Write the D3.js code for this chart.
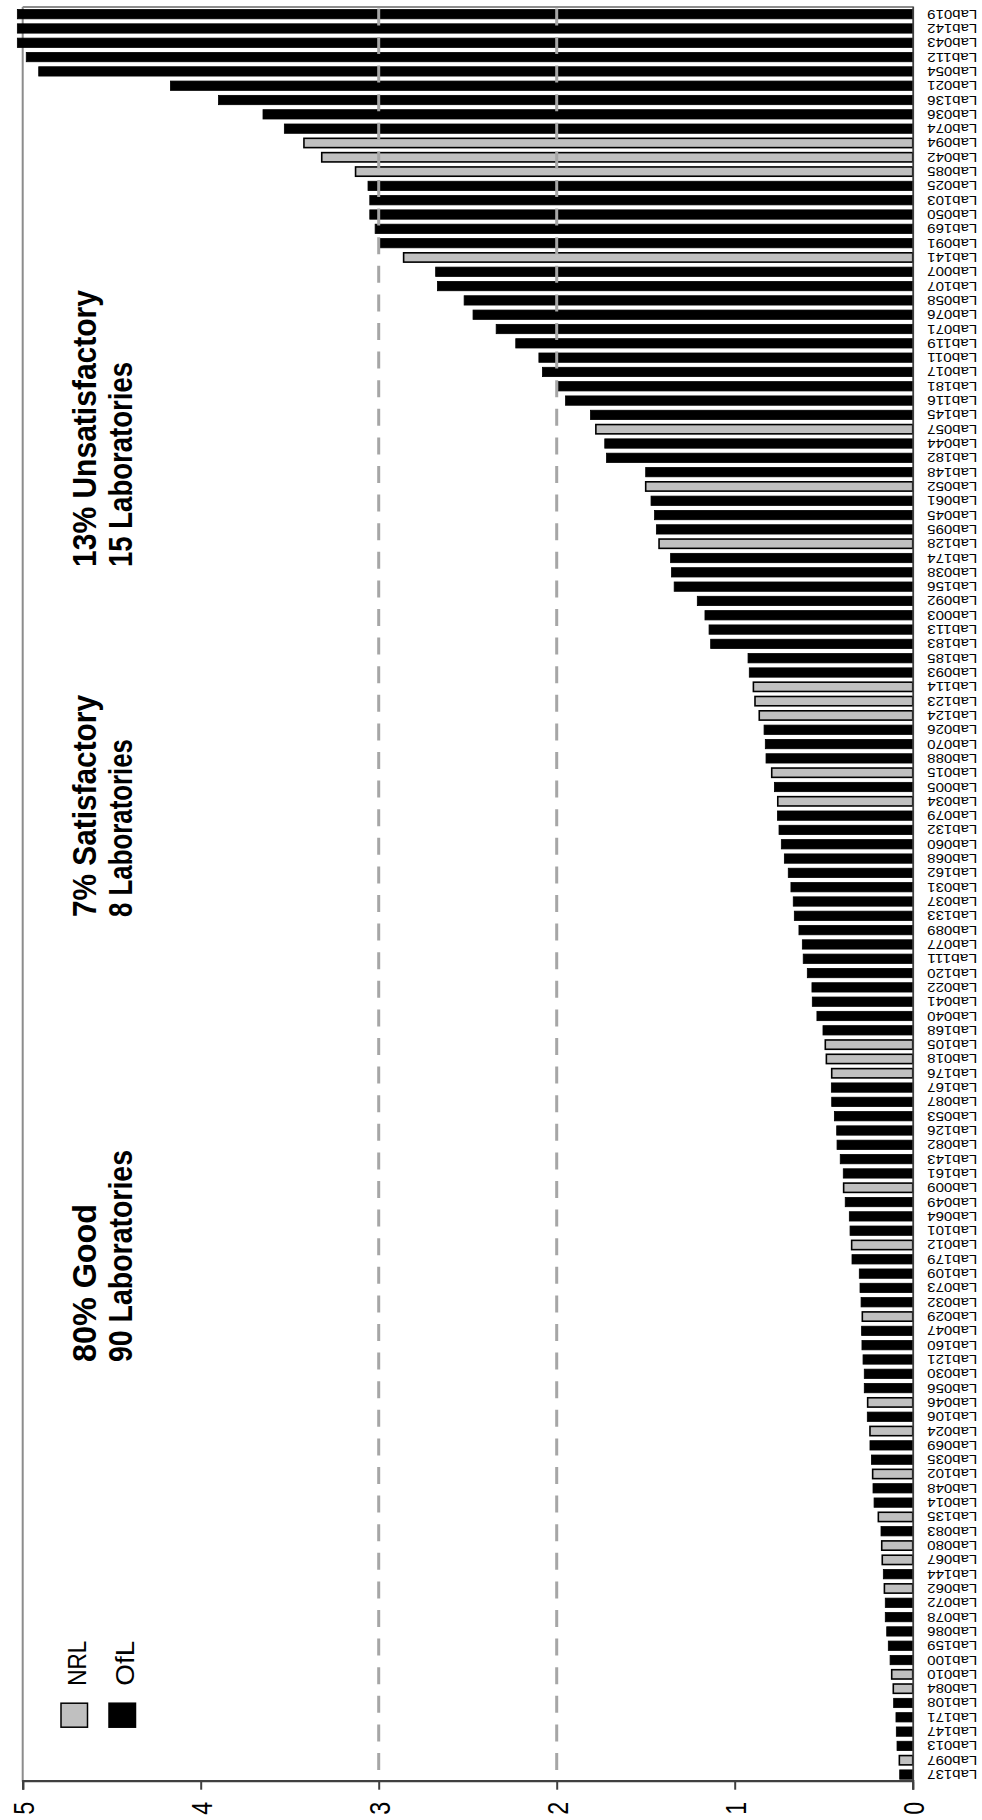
<!DOCTYPE html>
<html>
<head>
<meta charset="utf-8">
<script src="https://cdn.jsdelivr.net/npm/d3@7"></script>
<style>
  html, body { margin: 0; padding: 0; background: #fff; }
  svg { display: block; }
</style>
</head>
<body>
<svg id="chart" width="982" height="1820"></svg>
<script>
// ---------- DATA (top to bottom as shown, i.e. descending) ----------
const labs = ["Lab019","Lab142","Lab043","Lab112","Lab054","Lab021","Lab136","Lab036","Lab074","Lab094",
"Lab042","Lab085","Lab025","Lab103","Lab050","Lab169","Lab091","Lab141","Lab007","Lab107",
"Lab058","Lab076","Lab071","Lab119","Lab011","Lab017","Lab181","Lab116","Lab145","Lab057",
"Lab044","Lab182","Lab148","Lab052","Lab061","Lab045","Lab095","Lab128","Lab174","Lab038",
"Lab156","Lab092","Lab003","Lab113","Lab183","Lab185","Lab093","Lab114","Lab123","Lab124",
"Lab026","Lab070","Lab088","Lab015","Lab005","Lab034","Lab079","Lab132","Lab060","Lab068",
"Lab162","Lab031","Lab037","Lab133","Lab089","Lab077","Lab111","Lab120","Lab022","Lab041",
"Lab040","Lab168","Lab105","Lab018","Lab176","Lab167","Lab087","Lab053","Lab126","Lab082",
"Lab143","Lab161","Lab009","Lab049","Lab064","Lab101","Lab012","Lab179","Lab109","Lab073",
"Lab032","Lab029","Lab047","Lab160","Lab121","Lab030","Lab056","Lab046","Lab106","Lab024",
"Lab069","Lab035","Lab102","Lab048","Lab014","Lab135","Lab083","Lab080","Lab067","Lab144",
"Lab062","Lab072","Lab078","Lab086","Lab159","Lab100","Lab010","Lab084","Lab108","Lab171",
"Lab147","Lab013","Lab097","Lab137"];

const scores = [5.03,5.03,5.03,4.98,4.91,4.17,3.90,3.65,3.53,3.42,
3.32,3.13,3.06,3.05,3.05,3.02,3.00,2.86,2.68,2.67,
2.52,2.47,2.34,2.23,2.10,2.08,1.99,1.95,1.81,1.78,
1.73,1.72,1.50,1.50,1.47,1.45,1.44,1.425,1.36,1.355,
1.34,1.21,1.167,1.144,1.135,0.925,0.918,0.895,0.886,0.862,
0.835,0.828,0.824,0.792,0.777,0.758,0.760,0.751,0.738,0.721,
0.699,0.684,0.671,0.665,0.639,0.620,0.615,0.592,0.566,0.564,
0.538,0.504,0.491,0.485,0.455,0.457,0.455,0.440,0.427,0.425,
0.407,0.390,0.388,0.379,0.356,0.352,0.343,0.341,0.300,0.296,
0.290,0.283,0.287,0.285,0.279,0.272,0.272,0.253,0.255,0.240,
0.240,0.232,0.225,0.223,0.217,0.193,0.178,0.174,0.171,0.165,
0.159,0.154,0.154,0.146,0.137,0.127,0.118,0.109,0.107,0.094,
0.092,0.088,0.075,0.073];

const nrlLabs = ["Lab094","Lab042","Lab085","Lab141","Lab057","Lab052","Lab128","Lab114","Lab123","Lab124",
"Lab015","Lab034","Lab105","Lab018","Lab176","Lab009","Lab012","Lab029","Lab046","Lab024",
"Lab102","Lab135","Lab080","Lab067","Lab062","Lab010","Lab084","Lab097"];

const valueTicks = [0,1,2,3,4,5];
const limitLines = [2,3];
const legendItems = ["NRL","OfL"];
const annotations = [
  {lines:["13% Unsatisfactory","15 Laboratories"], at:1253, len:[277,205]},
  {lines:["7% Satisfactory","8 Laboratories"], at:903, len:[222,178]},
  {lines:["80% Good","90 Laboratories"], at:458, len:[158,212]}
];

// ---------- LAYOUT (drawn as a vertical chart, then turned 90° ccw) ----------
const W = 1820, H = 982;
const svg = d3.select("#chart");
svg.append("rect").attr("width",982).attr("height",1820).attr("fill","#fff");
const g = svg.append("g").attr("transform", `translate(0,${W}) rotate(-90)`);

const xLeft = 38.3, xRight = 1813;
const x = d3.scaleBand().domain(labs.slice().reverse()).range([xLeft, xRight])
  .paddingInner(0.35).paddingOuter(0.175);
const y = d3.scaleLinear().domain([0,5]).range([912.7, 22.7]);
const axisColor = "#404040";
const nrlSet = new Set(nrlLabs);

// plot border (top & right in chart orientation)
g.append("line").attr("x1",xLeft).attr("x2",xRight).attr("y1",y(5)).attr("y2",y(5))
  .attr("stroke","#8c8c8c").attr("stroke-width",2);
g.append("line").attr("x1",xRight).attr("x2",xRight).attr("y1",y(5)).attr("y2",y(0))
  .attr("stroke","#8c8c8c").attr("stroke-width",2);

// bars
const data = labs.map((l,i)=>({lab:l, v:scores[i], nrl:nrlSet.has(l)}));
g.append("g").selectAll("rect").data(data).join("rect")
  .attr("x", d=>x(d.lab))
  .attr("width", x.bandwidth())
  .attr("y", d=>y(d.v))
  .attr("height", d=>y(0)-y(d.v))
  .attr("fill", d=>d.nrl ? "#c0c0c0" : "#000")
  .attr("stroke", "#000")
  .attr("stroke-width", d=>d.nrl ? 1.6 : 0.8);

// dashed limit lines (on top of bars)
g.append("g").selectAll("line").data(limitLines).join("line")
  .attr("x1", xLeft).attr("x2", xRight)
  .attr("y1", d=>y(d)).attr("y2", d=>y(d))
  .attr("stroke","#a6a6a6").attr("stroke-width",3)
  .attr("stroke-dasharray","17 11.6").attr("stroke-dashoffset",16.9);

// value axis (left in chart orientation)
const yAxis = d3.axisLeft(y).tickValues(valueTicks).tickSize(8).tickPadding(12).tickFormat(d3.format("d"));
const ya = g.append("g").attr("transform",`translate(${xLeft},0)`).call(yAxis);
ya.select(".domain").attr("stroke",axisColor).attr("stroke-width",2.3);
ya.selectAll(".tick line").attr("stroke",axisColor).attr("stroke-width",2);
ya.selectAll(".tick text")
  .attr("font-family","'Liberation Sans', Arial, sans-serif")
  .attr("font-size",30).attr("fill","#000")
  .attr("x",-20).attr("dy","0.36em")
  .attr("textLength",13).attr("lengthAdjust","spacingAndGlyphs");

// category axis (bottom in chart orientation, at value 0)
const xAxis = d3.axisBottom(x).tickSize(0).tickPadding(0);
const xa = g.append("g").attr("transform",`translate(0,${y(0)})`).call(xAxis);
xa.select(".domain").attr("stroke",axisColor).attr("stroke-width",1.8);
xa.selectAll(".tick text")
  .attr("font-family","'Liberation Sans', Arial, sans-serif")
  .attr("font-size",12.5).attr("fill","#000")
  .attr("text-anchor","end")
  .attr("transform","translate(0,14.6) rotate(-90)")
  .attr("x",0).attr("y",0).attr("dy","0.36em")
  .attr("textLength",50).attr("lengthAdjust","spacingAndGlyphs");

// legend
const leg = g.append("g");
legendItems.forEach((name,i)=>{
  const yy = 61 + i*48;
  leg.append("rect").attr("x",92.8).attr("y",yy).attr("width",24).attr("height",26.5)
    .attr("fill", name==="NRL" ? "#c0c0c0" : "#000").attr("stroke","#000").attr("stroke-width",1.5);
  leg.append("text").attr("x",134.3).attr("y",yy+24.5)
    .attr("font-family","'Liberation Sans', Arial, sans-serif").attr("font-size",26)
    .attr("fill","#000").attr("textLength",45).attr("lengthAdjust","spacingAndGlyphs").text(name);
});

// annotations
const ann = g.append("g");
annotations.forEach(a=>{
  a.lines.forEach((t,j)=>{
    ann.append("text").attr("x",a.at).attr("y", j===0 ? 96 : 131.7)
      .attr("font-family","'Liberation Sans', Arial, sans-serif").attr("font-weight","bold")
      .attr("font-size",33).attr("fill","#000")
      .attr("textLength",a.len[j]).attr("lengthAdjust","spacingAndGlyphs").text(t);
  });
});
</script>
</body>
</html>
